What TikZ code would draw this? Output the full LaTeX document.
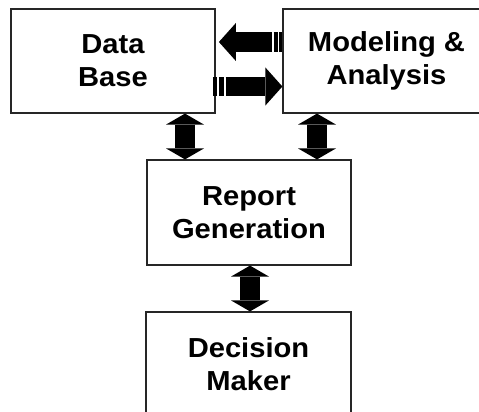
\documentclass[tikz,border=0pt]{standalone}
\usepackage{fontspec}
\newfontfamily\boxfont{Liberation Sans}[FakeStretch=1.06]
\usetikzlibrary{arrows.meta,calc}
\tikzset{
  box/.style={draw=black!85, line width=1.2pt, minimum width=204pt, minimum height=104pt,
    align=center, inner sep=0pt, font=\boxfont\bfseries\fontsize{27.5}{33}\selectfont},
  dbl/.style={line width=19.3pt, {Triangle[width=38pt,length=11pt,line width=0pt]}-{Triangle[width=38pt,length=11pt,line width=0pt]}},
  sgl/.style={line width=19.4pt, -{Triangle[width=38pt,length=17pt,line width=0pt]}},
  bar/.style={line width=19.4pt}
}
\begin{document}
\begin{tikzpicture}[x=1pt,y=-1pt]
\useasboundingbox (0,0) rectangle (479,412);
\fill[white] (0,0) rectangle (479,412);
\clip (0,0) rectangle (479,412);
\node[box] (db) at (113,61) {Data\\Base};
\node[box, minimum width=207pt] (mod) at (386.5,61) {Modeling \&\\Analysis};
\node[box, minimum height=105pt] (rep) at (249,212.5) {Report\\Generation};
\node[box, minimum width=205pt, minimum height=105pt] (dec) at (248.5,364.5) {Decision\\Maker};
\coordinate (ya) at (0,42);
\coordinate (yb) at (0,86.5);
\coordinate (xl) at (185,0);
\coordinate (xr) at (317,0);
\coordinate (xm) at (250,0);
% horizontal arrows
\draw[sgl] ($(mod.west |- ya)+(-10.3,0)$) -- ($(db.east |- ya)+(3.3,0)$);
\draw[bar] ($(mod.west |- ya)+(-8.7,0)$) -- ($(mod.west |- ya)+(-4.7,0)$);
\draw[bar] ($(mod.west |- ya)+(-3,0)$) -- (mod.west |- ya);
\draw[sgl] ($(db.east |- yb)+(10,0)$) -- (mod.west |- yb);
\draw[bar] ($(db.east |- yb)+(-2.7,0)$) -- ($(db.east |- yb)+(1.7,0)$);
\draw[bar] ($(db.east |- yb)+(3.3,0)$) -- ($(db.east |- yb)+(8.3,0)$);
% vertical double arrows
\draw[dbl] (db.south -| xl) -- (rep.north -| xl);
\draw[dbl] (mod.south -| xr) -- (rep.north -| xr);
\draw[dbl] (rep.south -| xm) -- (dec.north -| xm);
\end{tikzpicture}
\end{document}
